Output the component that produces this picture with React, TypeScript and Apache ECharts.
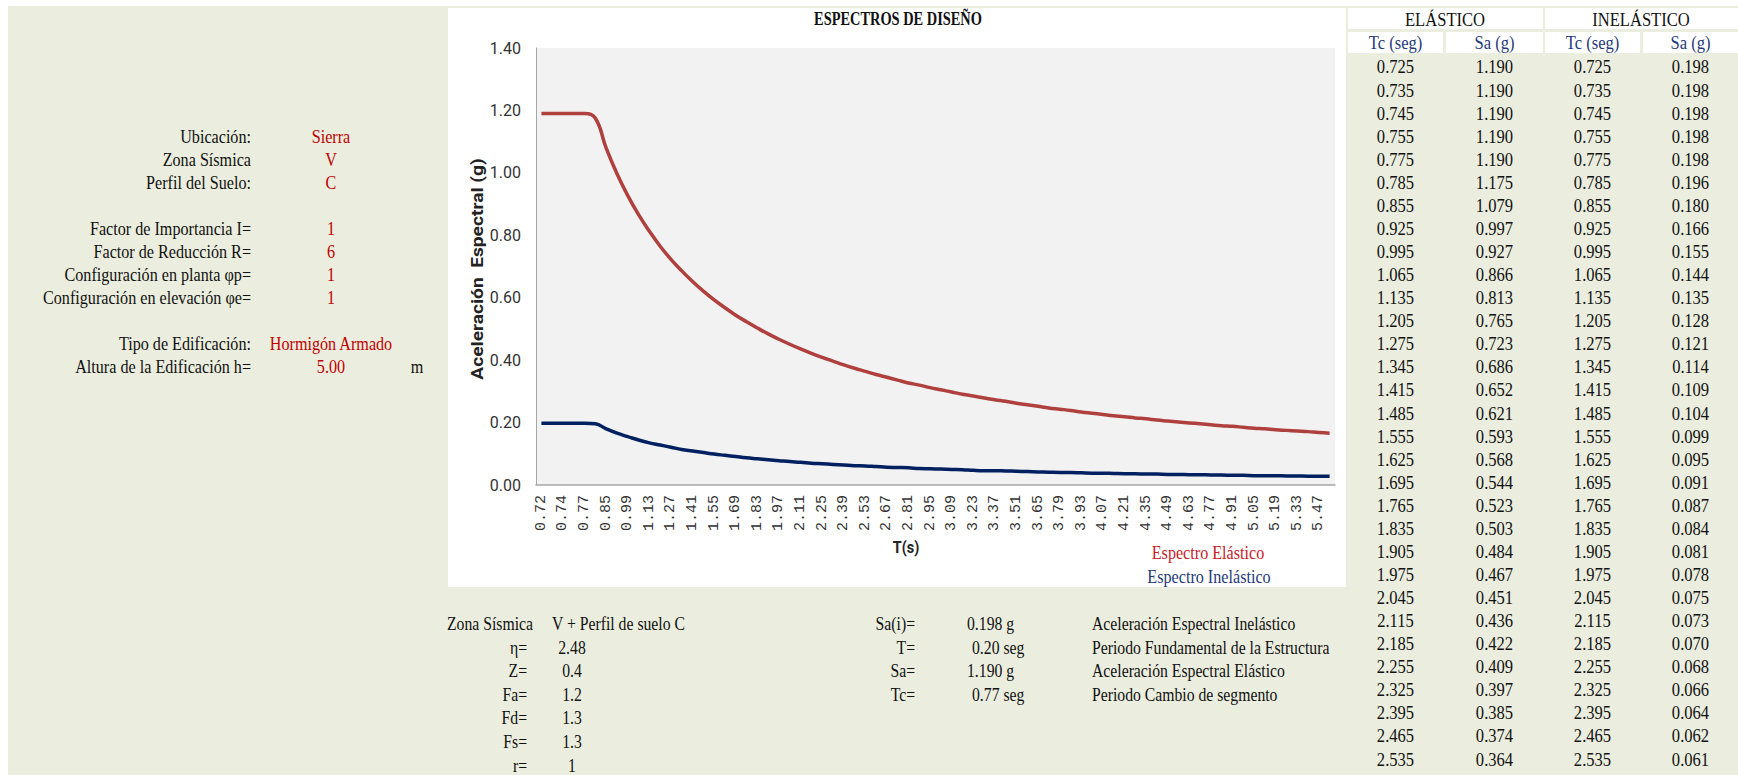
import React, { useEffect, useRef } from "react";
import * as echarts from "echarts";

// ---------- DATA ----------
const periods = [
  0.725, 0.735, 0.745, 0.755, 0.775, 0.785, 0.855, 0.925, 0.995, 1.065, 1.135, 1.205, 1.275, 1.345, 1.415,
  1.485, 1.555, 1.625, 1.695, 1.765, 1.835, 1.905, 1.975, 2.045, 2.115, 2.185, 2.255, 2.325, 2.395, 2.465,
  2.535, 2.605, 2.675, 2.745, 2.815, 2.885, 2.955, 3.025, 3.095, 3.165, 3.235, 3.305, 3.375, 3.445, 3.515,
  3.585, 3.655, 3.725, 3.795, 3.865, 3.935, 4.005, 4.075, 4.145, 4.215, 4.285, 4.355, 4.425, 4.495, 4.565,
  4.635, 4.705, 4.775, 4.845, 4.915, 4.985, 5.055, 5.125, 5.195, 5.265, 5.335, 5.405, 5.475, 5.545,
];
const saElastic = [
  1.19, 1.19, 1.19, 1.19, 1.19, 1.175, 1.079, 0.997, 0.927, 0.866, 0.813, 0.765, 0.723, 0.686, 0.652,
  0.621, 0.593, 0.568, 0.544, 0.523, 0.503, 0.484, 0.467, 0.451, 0.436, 0.422, 0.409, 0.397, 0.385, 0.374,
  0.364, 0.354, 0.345, 0.336, 0.327, 0.32, 0.312, 0.305, 0.298, 0.291, 0.285, 0.279, 0.273, 0.268, 0.262,
  0.257, 0.252, 0.247, 0.243, 0.239, 0.234, 0.23, 0.226, 0.222, 0.219, 0.215, 0.212, 0.208, 0.205, 0.202,
  0.199, 0.196, 0.193, 0.19, 0.188, 0.185, 0.182, 0.18, 0.177, 0.175, 0.173, 0.171, 0.168, 0.166,
];
const saInelastic = [
  0.198, 0.198, 0.198, 0.198, 0.198, 0.196, 0.18, 0.166, 0.155, 0.144, 0.135, 0.128, 0.121, 0.114, 0.109,
  0.104, 0.099, 0.095, 0.091, 0.087, 0.084, 0.081, 0.078, 0.075, 0.073, 0.07, 0.068, 0.066, 0.064, 0.062,
  0.061, 0.059, 0.057, 0.056, 0.055, 0.053, 0.052, 0.051, 0.05, 0.049, 0.047, 0.046, 0.046, 0.045, 0.044,
  0.043, 0.042, 0.041, 0.04, 0.04, 0.039, 0.038, 0.038, 0.037, 0.036, 0.036, 0.035, 0.035, 0.034, 0.034,
  0.033, 0.033, 0.032, 0.032, 0.031, 0.031, 0.03, 0.03, 0.03, 0.029, 0.029, 0.028, 0.028, 0.028,
];
const xTickLabels = [
  "0.72", "0.74", "0.77", "0.85", "0.99", "1.13", "1.27", "1.41", "1.55", "1.69", "1.83", "1.97", "2.11",
  "2.25", "2.39", "2.53", "2.67", "2.81", "2.95", "3.09", "3.23", "3.37", "3.51", "3.65", "3.79", "3.93",
  "4.07", "4.21", "4.35", "4.49", "4.63", "4.77", "4.91", "5.05", "5.19", "5.33", "5.47",
];
const tableRowCount = 31;

const chartTitle = "ESPECTROS DE DISEÑO";
const yAxisTitle = "Aceleración  Espectral (g)";
const xAxisTitle = "T(s)";
const seriesNames = ["Espectro Elástico", "Espectro Inelástico"];

const leftLabels = [
  "Ubicación:", "Zona Sísmica", "Perfil del Suelo:", "Factor de Importancia I=", "Factor de Reducción R=",
  "Configuración en planta φp=", "Configuración en elevación φe=", "Tipo de Edificación:", "Altura de la Edificación h=",
];
const leftValues = ["Sierra", "V", "C", "1", "6", "1", "1", "Hormigón Armado", "5.00"];
const leftRows = [0, 1, 2, 4, 5, 6, 7, 9, 10];

const factorLabels = ["η=", "Z=", "Fa=", "Fd=", "Fs=", "r="];
const factorValues = ["2.48", "0.4", "1.2", "1.3", "1.3", "1"];
const resultLabels = ["Sa(i)=", "T=", "Sa=", "Tc="];
const resultValues = ["0.198 g", "0.20 seg", "1.190 g", "0.77 seg"];
const resultDescs = [
  "Aceleración Espectral Inelástico", "Periodo Fundamental de la Estructura",
  "Aceleración Espectral Elástico", "Periodo Cambio de segmento",
];

// ---------- STYLE ----------
const SERIF = "'Liberation Serif', 'Times New Roman', serif";
const BEIGE = "#EBEEDF";
const RED_LINE = "#AF403D";
const NAVY_LINE = "#002060";
const RED_TEXT = "#C00000";
const NAVY_TEXT = "#1F3A7A";

function txt(x: number, y: number, text: string, o: any = {}) {
  return {
    type: "text",
    x, y,
    scaleX: o.sx ?? 0.85,
    rotation: o.rot ?? 0,
    z: 10,
    style: {
      text,
      fill: o.color ?? "#111",
      font: `${o.bold ? "bold " : ""}${o.size ?? 19}px ${o.family ?? SERIF}`,
      align: o.align ?? "left",
      verticalAlign: "middle",
    },
  };
}

export default function App() {
  const ref = useRef<HTMLDivElement>(null);
  useEffect(() => {
    if (!ref.current) return;
    const chart = echarts.init(ref.current, undefined, { renderer: "svg" });

    const g: any[] = [];
    g.push({ type: "rect", z: -10, shape: { x: 8, y: 6, width: 1730, height: 769 }, style: { fill: BEIGE } });
    g.push({ type: "rect", z: -9, shape: { x: 448, y: 8, width: 898, height: 579 }, style: { fill: "#fff" } });
    // right table header cells
    const colX = [1348, 1446, 1545, 1643];
    const colW = [95, 97, 95, 95];
    g.push({ type: "rect", z: -9, shape: { x: 1348, y: 8, width: 195, height: 21 }, style: { fill: "#fff" } });
    g.push({ type: "rect", z: -9, shape: { x: 1545, y: 8, width: 193, height: 21 }, style: { fill: "#fff" } });
    colX.forEach((cx, i) =>
      g.push({ type: "rect", z: -9, shape: { x: cx, y: 32, width: colW[i], height: 21 }, style: { fill: "#fff" } })
    );
    const colC = colX.map((cx, i) => cx + colW[i] / 2);
    g.push(txt(1445, 19.5, "ELÁSTICO", { align: "center", size: 19.5 }));
    g.push(txt(1641, 19.5, "INELÁSTICO", { align: "center", size: 19.5 }));
    ["Tc (seg)", "Sa (g)", "Tc (seg)", "Sa (g)"].forEach((t, i) =>
      g.push(txt(colC[i], 43, t, { align: "center", size: 19.5, color: NAVY_TEXT }))
    );
    for (let r = 0; r < tableRowCount; r++) {
      const y = 67 + r * 23.07;
      const vals = [
        periods[r].toFixed(3), saElastic[r].toFixed(3), periods[r].toFixed(3), saInelastic[r].toFixed(3),
      ];
      vals.forEach((v, i) => g.push(txt(colC[i], y, v, { align: "center", size: 19.5 })));
    }

    // left panel
    leftLabels.forEach((l, i) => {
      const y = 137 + leftRows[i] * 23;
      g.push(txt(251, y, l, { align: "right" }));
      g.push(txt(331, y, leftValues[i], { align: "center", color: RED_TEXT }));
    });
    g.push(txt(417, 137 + 10 * 23, "m", { align: "center" }));

    // chart texts
    g.push(txt(898, 19, chartTitle, { align: "center", bold: true, size: 18, sx: 0.8 }));
    g.push(
      txt(478, 269, yAxisTitle, { align: "center", bold: true, size: 16, sx: 1.2, rot: Math.PI / 2, family: "Roboto", color: "#222" })
    );
    g.push(txt(906, 547, xAxisTitle, { align: "center", bold: true, size: 17, sx: 0.85, family: "Roboto", color: "#222" }));
    g.push(txt(1208, 553, seriesNames[0], { align: "center", color: "#C8202A" }));
    g.push(txt(1209, 577, seriesNames[1], { align: "center", color: NAVY_TEXT }));

    // bottom table
    const bRow = (k: number) => 624 + k * 23.6;
    const bs = 18.5;
    g.push(txt(447, bRow(0), "Zona Sísmica", { size: bs }));
    g.push(txt(552, bRow(0), "V + Perfil de suelo C", { size: bs }));
    factorLabels.forEach((l, i) => {
      g.push(txt(527, bRow(i + 1), l, { align: "right", size: bs }));
      g.push(txt(572, bRow(i + 1), factorValues[i], { align: "center", size: bs }));
    });
    resultLabels.forEach((l, i) => {
      g.push(txt(915, bRow(i), l, { align: "right", size: bs }));
      g.push(txt(i % 2 === 0 ? 967 : 972, bRow(i), resultValues[i], { size: bs }));
      g.push(txt(1092, bRow(i), resultDescs[i], { size: bs }));
    });

    chart.setOption({
      animation: false,
      backgroundColor: "#ffffff",
      grid: {
        left: 536, top: 48, width: 799, height: 437,
        show: true, backgroundColor: "#F2F2F2", borderWidth: 0, containLabel: false,
      },
      xAxis: {
        type: "category",
        data: periods.map((p) => p.toFixed(3)),
        boundaryGap: true,
        axisLine: { lineStyle: { color: "#A6A6A6", width: 1.5 } },
        axisTick: { show: false },
        splitLine: { show: false },
        axisLabel: {
          interval: 1,
          rotate: 90,
          margin: 10,
          fontFamily: "'Liberation Mono', 'DejaVu Sans Mono', monospace",
          fontSize: 15,
          color: "#333",
          formatter: (_v: string, i: number) => xTickLabels[i / 2] ?? "",
        },
      },
      yAxis: {
        type: "value",
        min: 0,
        max: 1.4,
        interval: 0.2,
        axisLine: { show: true, lineStyle: { color: "#A6A6A6", width: 1 } },
        axisTick: { show: false },
        splitLine: { show: false },
        axisLabel: {
          margin: 15,
          fontFamily: "Roboto",
          fontSize: 16,
          color: "#333",
          formatter: (v: number) => v.toFixed(2),
        },
      },
      series: [
        {
          name: seriesNames[0], type: "line", data: saElastic, symbol: "none", smooth: 0.45,
          lineStyle: { color: RED_LINE, width: 3.5 }, z: 3,
        },
        {
          name: seriesNames[1], type: "line", data: saInelastic, symbol: "none", smooth: 0.45,
          lineStyle: { color: NAVY_LINE, width: 3.5 }, z: 3,
        },
      ],
      graphic: { elements: g },
    });
    return () => chart.dispose();
  }, []);
  return <div ref={ref} style={{ position: "fixed", left: 0, top: 0, width: 1738, height: 775 }} />;
}
